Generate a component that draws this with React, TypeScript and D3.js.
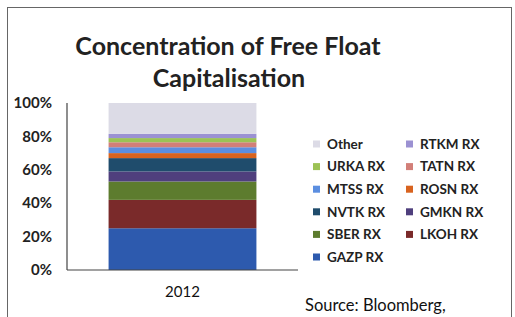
import React from "react";
import * as d3 from "d3";

// data (share of free float cap, %)
const categories = ["2012"];
const seriesNames = ["GAZP RX", "LKOH RX", "SBER RX", "GMKN RX", "NVTK RX", "ROSN RX", "MTSS RX", "TATN RX", "URKA RX", "RTKM RX", "Other"];
const seriesValues = [25, 17, 11, 6, 8, 3, 3.5, 3, 2.5, 2.5, 18.5];
const seriesColors = ["#2d5aae", "#7a2a2a", "#5d7c2e", "#4f3f7d", "#1f4c6c", "#d8631f", "#5b8ee0", "#d27f78", "#9cc255", "#9b91d2", "#dcdbe6"];
const yTicks = [0, 20, 40, 60, 80, 100];
const legendOrder = ["Other", "RTKM RX", "URKA RX", "TATN RX", "MTSS RX", "ROSN RX", "NVTK RX", "GMKN RX", "SBER RX", "LKOH RX", "GAZP RX"];

const font = "Lato, 'Open Sans', sans-serif";

export default function App() {
  const margin = { left: 67, top: 103, right: 298, bottom: 270 };
  const x = d3.scaleBand().domain(categories).range([margin.left, margin.right]).paddingInner(0.36).paddingOuter(0.18);
  const y = d3.scaleLinear().domain([0, 100]).range([margin.bottom, margin.top]);

  const row: any = { cat: "2012" };
  seriesNames.forEach((n, i) => (row[n] = seriesValues[i]));
  const stacked = d3.stack<any>().keys(seriesNames)([row]);
  const color = d3.scaleOrdinal<string, string>().domain(seriesNames).range(seriesColors);

  return (
    <svg width={515} height={317} style={{ position: "absolute", left: 0, top: 0 }} fontFamily={font}>
      <rect x={0} y={0} width={515} height={317} fill="#fff" />
      <rect x={7.5} y={7.5} width={504} height={312} fill="none" stroke="#666" strokeWidth={1} />

      <text x={228} y={55} textAnchor="middle" fontSize={25} fontWeight="bold" fill="#222">Concentration of Free Float</text>
      <text x={229} y={87} textAnchor="middle" fontSize={25} fontWeight="bold" fill="#222">Capitalisation</text>

      {stacked.map((s) =>
        s.map((d, j) => (
          <rect key={s.key + j} x={x(categories[j])} width={x.bandwidth()} y={y(d[1])} height={y(d[0]) - y(d[1])} fill={color(s.key)} />
        ))
      )}

      <line x1={margin.left} x2={margin.left} y1={margin.top} y2={margin.bottom} stroke="#444" strokeWidth={1.2} />
      <line x1={margin.left} x2={margin.right} y1={margin.bottom} y2={margin.bottom} stroke="#444" strokeWidth={1.2} />

      {yTicks.map((t) => (
        <text key={t} x={52} y={y(t)} dy="0.35em" textAnchor="end" fontSize={15} fontWeight="bold" fill="#222">{t + "%"}</text>
      ))}
      {categories.map((c) => (
        <text key={c} x={(x(c) as number) + x.bandwidth() / 2} y={297} textAnchor="middle" fontSize={15} fill="#111">{c}</text>
      ))}

      {legendOrder.map((n, i) => {
        const col = i % 2;
        const r = Math.floor(i / 2);
        const lx = col === 0 ? 313 : 406;
        const ly = 144 + r * 22.6;
        return (
          <g key={n}>
            <rect x={lx} y={ly - 3.5} width={7} height={7} fill={color(n)} />
            <text x={lx + 14} y={ly} dy="0.35em" fontSize={13.5} fontWeight="bold" fill="#222">{n}</text>
          </g>
        );
      })}

      <text x={305} y={311} fontSize={16.5} fill="#111">Source: Bloomberg,</text>
    </svg>
  );
}
